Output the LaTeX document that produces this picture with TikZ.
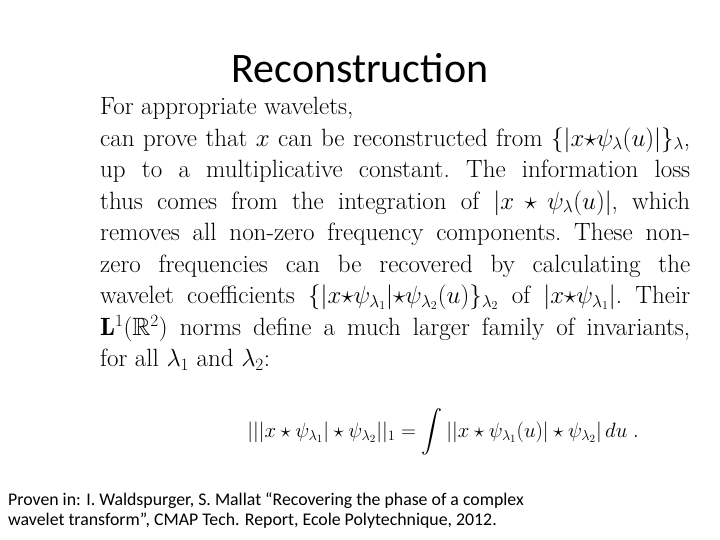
\documentclass[tikz,border=0pt]{standalone}
\usepackage{amsmath,amssymb}
\usepackage{fontspec}
\newfontfamily\carlitofont{Carlito}
\begin{document}
\begin{tikzpicture}[x=1pt,y=1pt,
  bodytext/.style={anchor=north west,inner sep=0pt,text width=590pt,align=justify,font=\fontsize{25}{31.5}\selectfont\frenchspacing},
  foot/.style={anchor=north west,inner sep=0pt,align=left,font=\carlitofont\fontsize{17.8}{20}\selectfont}]
\useasboundingbox (0,0) rectangle (720,-540);
\node[font=\carlitofont\fontsize{42}{46}\selectfont] (title) at (360,-68) {Reconstruction};
\node[bodytext] (body) at (100,-97) {For appropriate wavelets,\\
can prove that $x$ can be reconstructed from $\{|x{\star}\psi_\lambda(u)|\}_\lambda$,\linebreak
up to a multiplicative constant. The information loss\linebreak
thus comes from the integration of $|x\star\psi_\lambda(u)|$, which\linebreak
removes all non-zero frequency components. These non-\linebreak
zero frequencies can be recovered by calculating the\linebreak
wavelet coefficients $\{|x{\star}\psi_{\lambda_1}|{\star}\psi_{\lambda_2}(u)\}_{\lambda_2}$ of $|x{\star}\psi_{\lambda_1}|$. Their\linebreak
$\mathbf{L}^1(\mathbb{R}^2)$ norms define a much larger family of invariants,\linebreak
for all $\lambda_1$ and $\lambda_2$:};
\node[inner sep=0pt,font=\fontsize{21}{26}\selectfont] (eq) at (443,-432)
 {$\displaystyle |||x\star\psi_{\lambda_1}|\star\psi_{\lambda_2}||_1=\int||x\star\psi_{\lambda_1}(u)|\star\psi_{\lambda_2}|\,du\;.$};
\node[foot] (note) at (8,-492) {Proven in: I. Waldspurger, S. Mallat “Recovering the phase of a complex\\wavelet transform”, CMAP Tech. Report, Ecole Polytechnique, 2012.};
\end{tikzpicture}
\end{document}
